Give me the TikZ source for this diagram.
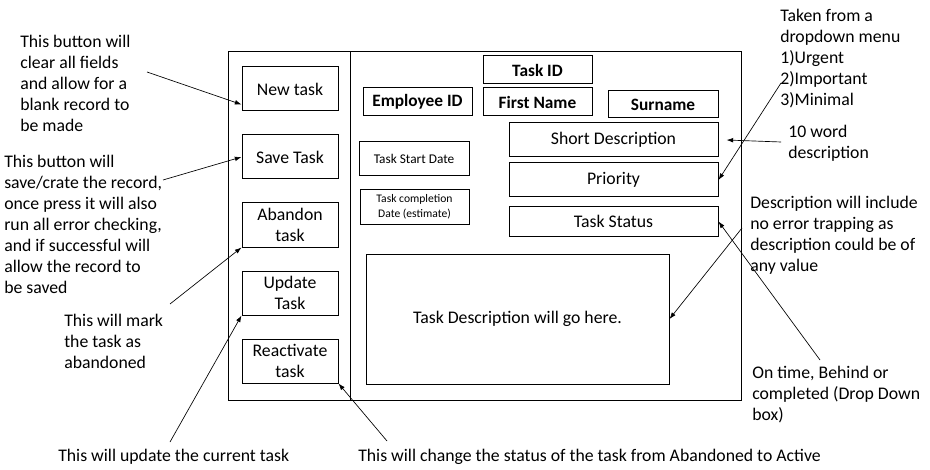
\documentclass[tikz,border=0pt]{standalone}
\usepackage{fontspec}
\setmainfont{Carlito}
\usetikzlibrary{arrows.meta,calc}
\begin{document}
\begin{tikzpicture}[x=0.75pt,y=-0.75pt,
  box/.style={draw, line width=0.75pt, inner sep=0pt, align=center, font=\fontsize{13.3}{15.75}\selectfont},
  btn/.style={box, minimum width=72pt, minimum height=33pt},
  bbox/.style={box, font=\fontsize{13}{15.75}\selectfont\bfseries},
  note/.style={align=left, anchor=west, inner sep=0pt, font=\fontsize{13.3}{15.75}\selectfont},
  arr/.style={-{Latex[length=5pt,width=3.5pt]}, line width=0.5pt}]
\useasboundingbox (0,0) rectangle (930,470);
% frame
\node[draw, line width=0.75pt, minimum width=384.75pt, minimum height=261pt, inner sep=0pt] (frame) at (484.5,226) {};
\coordinate (divtop) at (350,52);
\coordinate (divbot) at (350,400);
\draw[line width=0.75pt] (divtop) -- (divbot);
% buttons
\node[btn] (new) at (290,89) {New task};
\node[btn] (save) at (290,157) {Save Task};
\node[btn] (aband) at (290,225) {Abandon\\task};
\node[btn] (update) at (290,293) {Update\\Task};
\node[btn] (react) at (290,361) {Reactivate\\task};
% fields
\node[bbox, minimum width=81.75pt, minimum height=21pt] (taskid) at (537.5,70) {Task ID};
\node[bbox, minimum width=81.75pt, minimum height=21pt] (empid) at (417.5,102) {Employee ID};
\node[bbox, minimum width=81.75pt, minimum height=21pt] (fname) at (537.5,102) {First Name};
\node[bbox, minimum width=82.5pt, minimum height=20.25pt] (surname) at (663,104.5) {Surname};
\node[box, minimum width=156.75pt, minimum height=25.5pt] (shortdesc) at (613.5,140) {Short Description};
\node[box, minimum width=156.75pt, minimum height=25.5pt] (priority) at (613.5,180) {Priority};
\node[box, minimum width=156.75pt, minimum height=21.75pt] (status) at (613.5,221.5) {Task Status};
\node[box, minimum width=82.5pt, minimum height=25.5pt, font=\fontsize{10}{12}\selectfont] (start) at (414,159) {Task Start Date};
\node[box, minimum width=81.75pt, minimum height=25.5pt, font=\fontsize{8.7}{11}\selectfont] (compl) at (414.5,207) {Task completion\\Date (estimate)};
\node[box, minimum width=227.25pt, minimum height=97.5pt] (desc) at (517.5,319) {Task Description will go here.};
% notes
\node[note] (n1) at (20,83.5) {This button will\\clear all fields\\and allow for a\\blank record to\\be made};
\node[note] (n2) at (4,224.5) {This button will\\save/crate the record,\\once press it will also\\run all error checking,\\and if successful will\\allow the record to\\be saved};
\node[note] (n3) at (64,341.5) {This will mark\\the task as\\abandoned};
\node[note] (n4) at (58,457) {This will update the current task};
\node[note] (n5) at (358,457) {This will change the status of the task from Abandoned to Active};
\node[note] (n6) at (780,59) {Taken from a\\dropdown menu\\1)Urgent\\2)Important\\3)Minimal};
\node[note] (n7) at (788,143) {10 word\\description};
\node[note] (n8) at (750,235) {Description will include\\no error trapping as\\description could be of\\any value};
\node[note] (n9) at (752,395) {On time, Behind or\\completed (Drop Down\\box)};
% arrow start points
\coordinate (a1) at (147,72);
\coordinate (a2) at (163,180);
\coordinate (a3) at (170,304);
\coordinate (a4) at (170,442);
\coordinate (a5) at (387,441);
\coordinate (a6) at (781,83);
\coordinate (a7) at (781,142);
\coordinate (a8) at (742,228);
\coordinate (a9) at (820,360);
% arrows
\draw[arr] (a1) -- ([yshift=5.25pt]new.south west);
\draw[arr] (a2) -- (save.west);
\draw[arr] (a3) -- (aband.south west);
\draw[arr] (a4) -- (update.south west);
\draw[arr] (a5) -- (react.south east);
\draw[arr] (a6) -- (priority.east);
\draw[arr] (a7) -- ([xshift=6pt]shortdesc.east);
\draw[arr] (a8) -- (desc.east);
\draw[arr] (a9) -- (status.east);
\end{tikzpicture}
\end{document}
